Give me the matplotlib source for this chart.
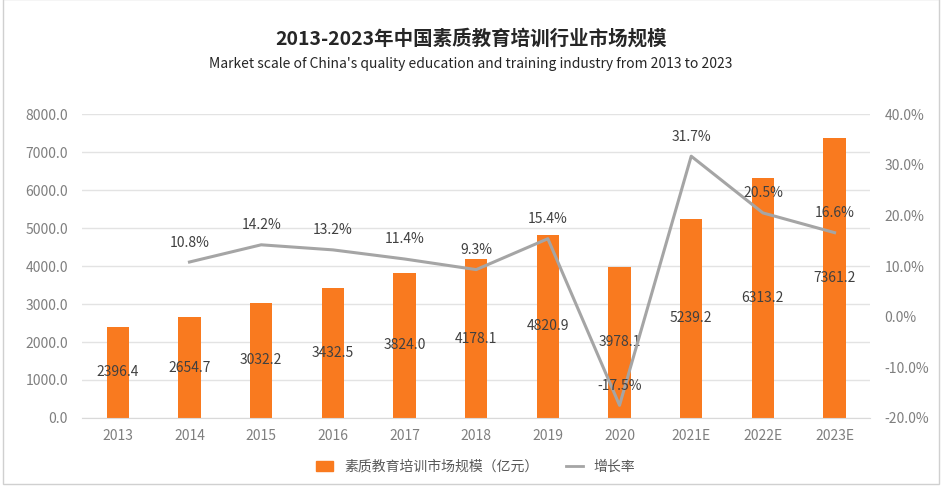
import matplotlib.pyplot as plt
from matplotlib.lines import Line2D
from matplotlib.patches import Patch, Rectangle

plt.rcParams['font.family'] = ['Noto Sans CJK SC', 'DejaVu Sans']

years = ['2013', '2014', '2015', '2016', '2017', '2018', '2019', '2020', '2021E', '2022E', '2023E']
market_size = [2396.4, 2654.7, 3032.2, 3432.5, 3824.0, 4178.1, 4820.9, 3978.1, 5239.2, 6313.2, 7361.2]
growth_years = years[1:]
growth_rate = [10.8, 14.2, 13.2, 11.4, 9.3, 15.4, -17.5, 31.7, 20.5, 16.6]

bar_color = '#F97A1F'
line_color = '#A5A5A5'
text_color = '#404040'
tick_color = '#7F7F7F'

fig = plt.figure(figsize=(9.42, 4.90), dpi=100)
ax = fig.add_axes([0.087, 0.147, 0.837, 0.62])
ax2 = ax.twinx()

x = list(range(len(years)))
bars = ax.bar(x, market_size, width=0.31, color=bar_color, zorder=2)
for xi, v in zip(x, market_size):
    ax.text(xi, v / 2, f'{v:.1f}', ha='center', va='center', fontsize=10, color=text_color, zorder=5)

ax.set_ylim(0, 8000)
ax.set_yticks(range(0, 8001, 1000))
ax.set_yticklabels([f'{v:.1f}' for v in range(0, 8001, 1000)])
ax.set_xlim(-0.5, 10.5)
ax.set_xticks(x)
ax.set_xticklabels(years)
ax.grid(axis='y', color='#E3E3E3', linewidth=1, zorder=0)
ax.set_axisbelow(True)

gx = x[1:]
ax2.plot(gx, growth_rate, color=line_color, linewidth=2.2, zorder=3)
for xi, v in zip(gx, growth_rate):
    ax2.annotate(f'{v:.1f}%', (xi, v), xytext=(0, 9), textcoords='offset points',
                 ha='center', va='bottom', fontsize=10, color=text_color)
ax2.set_ylim(-20, 40)
ax2.set_yticks(range(-20, 41, 10))
ax2.set_yticklabels([f'{v:.1f}%' for v in range(-20, 41, 10)])

for a in (ax, ax2):
    for s in a.spines.values():
        s.set_visible(False)
    a.tick_params(length=0, labelsize=10, colors=tick_color, pad=10)
ax.spines['bottom'].set_visible(True)
ax.spines['bottom'].set_color('#D9D9D9')
ax.tick_params(axis='x', pad=8)

fig.text(0.5, 0.922, '2013-2023年中国素质教育培训行业市场规模', ha='center', va='center',
         fontsize=14, fontweight='bold', color='#262626')
fig.text(0.5, 0.870, "Market scale of China's quality education and training industry from 2013 to 2023",
         ha='center', va='center', fontsize=10, color='#262626')

handles = [Patch(color=bar_color), Line2D([0], [0], color=line_color, linewidth=2)]
fig.legend(handles, ['素质教育培训市场规模（亿元）', '增长率'], loc='center', bbox_to_anchor=(0.505, 0.047),
           ncol=2, frameon=False, fontsize=10, handlelength=1.2, handleheight=0.8,
           columnspacing=2.0, labelcolor='#595959')

fig.patches.append(Rectangle((0.003, 0.012), 0.994, 0.99, transform=fig.transFigure,
                             fill=False, edgecolor='#D0D0D0', linewidth=1))

fig.savefig('out.png', dpi=100)
